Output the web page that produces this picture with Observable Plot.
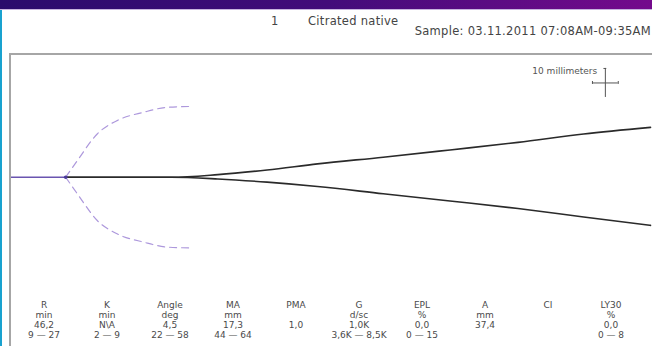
<!DOCTYPE html>
<html><head><meta charset="utf-8">
<script src="https://cdn.jsdelivr.net/npm/d3@7"></script>
<script src="https://cdn.jsdelivr.net/npm/@observablehq/plot@0.6"></script>
<style>
html,body{margin:0;padding:0;background:#fff;}
#page{position:relative;width:652px;height:346px;overflow:hidden;background:#fff;font-family:"DejaVu Sans",sans-serif;}
#bar{position:absolute;left:0;top:0;width:652px;height:9px;background:linear-gradient(to right,#2a0c6c,#420c7a 50%,#740a8c);}
#barline{position:absolute;left:0;top:9px;width:652px;height:1px;background:#c7b4de;}
#cyan{position:absolute;left:0;top:10px;width:2px;height:336px;background:#19a2cf;}
#box{position:absolute;left:9px;top:53px;width:660px;height:320px;border:2px solid #a6a6a6;box-sizing:border-box;}
.hdr{position:absolute;font-size:11.5px;line-height:12px;letter-spacing:0.3px;color:#444;white-space:nowrap;}
#trace{position:absolute;left:11px;top:55px;}
#table{position:absolute;left:0;top:291px;}
</style></head><body>
<div id="page">
  <div id="bar"></div><div id="barline"></div><div id="cyan"></div>
  <div class="hdr" style="left:271px;top:15px;">1</div>
  <div class="hdr" style="left:308px;top:15px;">Citrated native</div>
  <div class="hdr" style="right:1px;top:25px;">Sample: 03.11.2011 07:08AM-09:35AM</div>
  <div id="box"></div>
  <div id="trace"></div>
  <div id="table"></div>
</div>
<script>
// ---- data ----
const rTime = 46.2;
const baseTime = [0, 46.2];
const traceTime  = [46.2, 136, 176, 218, 261, 317, 374, 432, 488, 545];
const traceUpper = [0, 0, 0.9, 2.5, 4.6, 6.9, 9.4, 12.0, 14.9, 17.2];
const traceLower = [0, 0, -0.6, -1.7, -3.2, -5.7, -8.2, -10.8, -13.7, -16.6];
const envTime  = [46.2, 56.3, 73.3, 90.4, 112.8, 132.8, 152.7];
const envUpper = [0, 5.8, 15.0, 19.6, 22.4, 24.1, 24.4];
const envLower = [0, -5.8, -15.0, -19.6, -22.4, -24.1, -24.4];
const scaleLabel = "10 millimeters";
const scaleX = [495.5, 517.5];
const scaleY = [27.5, 37.5];

const params = ["R","K","Angle","MA","PMA","G","EPL","A","CI","LY30"];
const units  = ["min","min","deg","mm","","d/sc","%","mm","","%"];
const values = ["46,2","N\\A","4,5","17,3","1,0","1,0K","0,0","37,4","","0,0"];
const ranges = ["9 — 27","2 — 9","22 — 58","44 — 64","","3,6K — 8,5K","0 — 15","","","0 — 8"];
const rowNames = ["name","unit","value","range"];

// ---- trace plot ----
const base = baseTime.map(t => ({t, y: 0}));
const up = traceTime.map((t, i) => ({t, y: traceUpper[i]}));
const lo = traceTime.map((t, i) => ({t, y: traceLower[i]}));
const eu = envTime.map((t, i) => ({t, y: envUpper[i]}));
const el = envTime.map((t, i) => ({t, y: envLower[i]}));
const cx = (scaleX[0] + scaleX[1]) / 2, cy = (scaleY[0] + scaleY[1]) / 2;

const trace = Plot.plot({
  width: 641, height: 231,
  marginLeft: 0, marginRight: 2, marginTop: 0, marginBottom: 0,
  x: {domain: [0, 545], axis: null},
  y: {domain: [-37.69, 41.97], axis: null},
  style: {fontFamily: "DejaVu Sans", background: "transparent"},
  marks: [
    Plot.line(eu, {x: "t", y: "y", curve: "monotone-x", stroke: "#ad98dc", strokeWidth: 1.2, strokeDasharray: "7,5"}),
    Plot.line(el, {x: "t", y: "y", curve: "monotone-x", stroke: "#ad98dc", strokeWidth: 1.2, strokeDasharray: "7,5"}),
    Plot.line(up, {x: "t", y: "y", curve: "monotone-x", stroke: "#2a2a2a", strokeWidth: 1.6}),
    Plot.line(lo, {x: "t", y: "y", curve: "monotone-x", stroke: "#2a2a2a", strokeWidth: 1.6}),
    Plot.line(base, {x: "t", y: "y", stroke: "#6a55b0", strokeWidth: 1.6}),
    Plot.dot([{t: rTime, y: 0}], {x: "t", y: "y", r: 1.8, fill: "#4a3a9a"}),
    // scale crosshair
    Plot.ruleY([cy], {x1: scaleX[0], x2: scaleX[1], stroke: "#555", strokeWidth: 1}),
    Plot.ruleX([cx], {y1: scaleY[0], y2: scaleY[1], stroke: "#555", strokeWidth: 1}),
    Plot.ruleX(scaleX, {y1: cy - 0.5, y2: cy + 0.5, stroke: "#555", strokeWidth: 1}),
    Plot.ruleY([scaleY[1]], {x1: cx - 1.2, x2: cx + 1.2, stroke: "#555", strokeWidth: 1}),
    Plot.text([scaleLabel], {x: scaleX[0] + 4, y: scaleY[1] - 1, text: d => d, textAnchor: "end", fontSize: 9, fill: "#555"})
  ]
});
document.getElementById("trace").appendChild(trace);

// ---- parameter table ----
const cells = [];
params.forEach((p, i) => {
  cells.push({param: p, row: "name", text: p});
  cells.push({param: p, row: "unit", text: units[i]});
  cells.push({param: p, row: "value", text: values[i]});
  cells.push({param: p, row: "range", text: ranges[i]});
});
const table = Plot.plot({
  width: 652, height: 55,
  marginLeft: 10, marginRight: 8, marginTop: 13, marginBottom: 10,
  x: {type: "band", domain: params, padding: 0, axis: null},
  y: {type: "point", domain: rowNames, padding: 0, axis: null},
  style: {fontFamily: "DejaVu Sans", background: "transparent"},
  marks: [
    Plot.text(cells.filter(d => d.text), {x: "param", y: "row", text: "text", fontSize: 9, fill: "#4a4a4a"})
  ]
});
document.getElementById("table").appendChild(table);
</script>
</body></html>
